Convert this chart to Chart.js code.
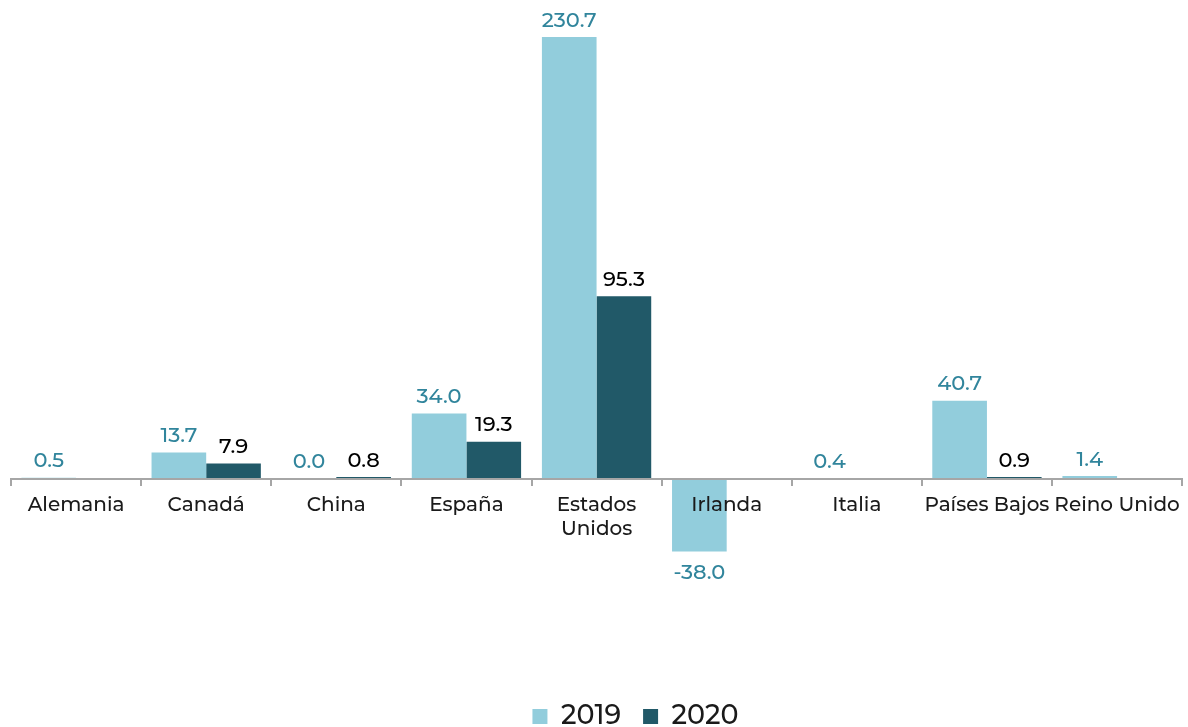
<!DOCTYPE html>
<html>
<head>
<meta charset="utf-8">
<script src="https://cdn.jsdelivr.net/npm/chart.js@4.4.0/dist/chart.umd.min.js"></script>
<style>
  html, body { margin: 0; padding: 0; background: #fff; }
  #wrap { width: 1188px; height: 727px; position: relative; }
</style>
</head>
<body>
<div id="wrap"><canvas id="barChart"></canvas></div>
<script>
const categories = ['Alemania', 'Canadá', 'China', 'España', ['Estados', 'Unidos'], 'Irlanda', 'Italia', 'Países Bajos', 'Reino Unido'];
const values2019 = [0.5, 13.7, 0.0, 34.0, 230.7, -38.0, 0.4, 40.7, 1.4];
const values2020 = [null, 7.9, 0.8, 19.3, 95.3, null, null, 0.9, null];

const fontFamily = '"Montserrat", "Noto Sans", "DejaVu Sans", sans-serif';

// draws the value above (or below, for negatives) each bar
const valueLabels = {
    id: 'valueLabels',
    afterDatasetsDraw(chart) {
        const ctx = chart.ctx;
        ctx.save();
        ctx.font = '500 21px ' + fontFamily;
        ctx.textAlign = 'center';
        chart.data.datasets.forEach((ds, i) => {
            const meta = chart.getDatasetMeta(i);
            meta.data.forEach((bar, j) => {
                const v = ds.data[j];
                if (v === null || v === undefined) return;
                ctx.fillStyle = ds.labelColor;
                if (v < 0) {
                    ctx.textBaseline = 'top';
                    ctx.fillText(v.toFixed(1), bar.x, bar.y + 11);
                } else {
                    ctx.textBaseline = 'bottom';
                    ctx.fillText(v.toFixed(1), bar.x, bar.y - 6);
                }
            });
        });
        ctx.restore();
    }
};

// nudge the legend a bit lower and to the right, like the original
const legendShift = {
    id: 'legendShift',
    afterLayout(chart) {
        const lg = chart.legend;
        if (!lg) return;
        lg.top += 13;
        lg.bottom += 13;
        lg.left += 38;
        lg.right += 38;
    }
};

function setupBarChart() {
    let ctx = document.getElementById('barChart').getContext('2d');
    new Chart(ctx, {
        type: 'bar',
        data: {
            labels: categories,
            datasets: [{
                label: '2019',
                data: values2019,
                backgroundColor: '#92CDDC',
                labelColor: '#31859C',
                categoryPercentage: 0.84,
                barPercentage: 1.0
            },
            {
                label: '2020',
                data: values2020,
                backgroundColor: '#215968',
                labelColor: '#000000',
                categoryPercentage: 0.84,
                barPercentage: 1.0
            }]
        },
        options: {
            responsive: true,
            maintainAspectRatio: false,
            animation: false,
            layout: {
                padding: { left: 11, right: 4, top: 0, bottom: 0 }
            },
            scales: {
                x: {
                    position: { y: 0 },
                    grid: {
                        drawOnChartArea: false,
                        drawTicks: true,
                        tickLength: 6,
                        color: '#a6a6a6',
                        lineWidth: 2,
                        z: 1
                    },
                    border: { display: true, color: '#a6a6a6', width: 2, z: 1 },
                    ticks: {
                        z: 1,
                        color: '#1a1a1a',
                        font: { family: fontFamily, size: 20, weight: 500 },
                        padding: 8,
                        maxRotation: 0,
                        autoSkip: false
                    }
                },
                y: {
                    display: false,
                    min: -98.9,
                    max: 250
                }
            },
            plugins: {
                legend: {
                    position: 'bottom',
                    labels: {
                        color: '#1a1a1a',
                        font: { family: fontFamily, size: 27, weight: 500 },
                        boxWidth: 15,
                        boxHeight: 15,
                        padding: 22
                    }
                },
                tooltip: { enabled: false }
            }
        },
        plugins: [valueLabels, legendShift]
    });
}

setupBarChart();
</script>
</body>
</html>
